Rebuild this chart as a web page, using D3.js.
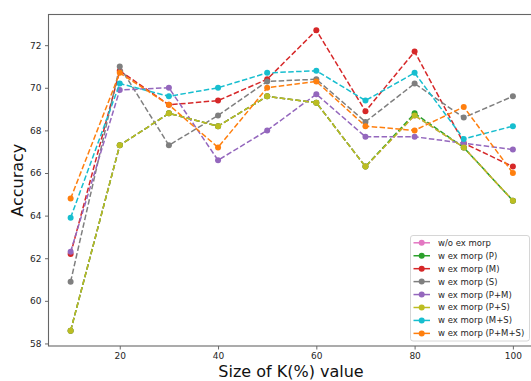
<!DOCTYPE html>
<html>
<head>
<meta charset="utf-8">
<script src="https://cdn.jsdelivr.net/npm/d3@7"></script>
<style>
  body { margin: 0; background: #fff; }
  svg { font-family: "DejaVu Sans", sans-serif; }
</style>
</head>
<body>
<svg id="chart" width="531" height="381"></svg>
<script>
const kSizes = [10, 20, 30, 40, 50, 60, 70, 80, 90, 100];
const seriesNames = ["w/o ex morp", "w ex morp (P)", "w ex morp (M)", "w ex morp (S)",
  "w ex morp (P+M)", "w ex morp (P+S)", "w ex morp (M+S)", "w ex morp (P+M+S)"];
const seriesColors = ["#e377c2", "#2ca02c", "#d62728", "#7f7f7f", "#9467bd", "#bcbd22", "#17becf", "#ff7f0e"];

const woMorp = [58.6, 67.3, 68.8, 68.2, 69.6, 69.3, 66.3, 68.7, 67.2, 64.7];
const morpP = [58.6, 67.3, 68.8, 68.2, 69.6, 69.3, 66.3, 68.8, 67.2, 64.7];
const morpM = [62.2, 70.8, 69.2, 69.4, 70.4, 72.7, 68.9, 71.7, 67.4, 66.3];
const morpS = [60.9, 71.0, 67.3, 68.7, 70.3, 70.4, 68.4, 70.2, 68.6, 69.6];
const morpPM = [62.3, 69.9, 70.0, 66.6, 68.0, 69.7, 67.7, 67.7, 67.4, 67.1];
const morpPS = [58.6, 67.3, 68.8, 68.2, 69.6, 69.3, 66.3, 68.7, 67.2, 64.7];
const morpMS = [63.9, 70.2, 69.6, 70.0, 70.7, 70.8, 69.4, 70.7, 67.6, 68.2];
const morpPMS = [64.8, 70.7, 69.2, 67.2, 70.0, 70.3, 68.2, 68.0, 69.1, 66.0];

const allSeries = [woMorp, morpP, morpM, morpS, morpPM, morpPS, morpMS, morpPMS];
const xTicks = [20, 40, 60, 80, 100];
const yTicks = [58, 60, 62, 64, 66, 68, 70, 72];

const svg = d3.select("#chart");
const plotLeft = 48.5, plotRight = 535, plotTop = 14.5, plotBottom = 346;

const x = d3.scaleLinear().domain([5.5, 104.5]).range([plotLeft, plotRight]);
const y = d3.scaleLinear().domain([57.88, 73.44]).range([plotBottom, plotTop]);

// axes
const xAxis = svg.append("g")
  .attr("transform", `translate(0,${plotBottom})`)
  .call(d3.axisBottom(x).tickValues(xTicks).tickSize(3.5).tickPadding(3.5));
const yAxis = svg.append("g")
  .attr("transform", `translate(${plotLeft},0)`)
  .call(d3.axisLeft(y).tickValues(yTicks).tickSize(3.5).tickPadding(3.5));

[xAxis, yAxis].forEach(a => {
  a.select(".domain").remove();
  a.selectAll(".tick line").attr("stroke", "#444").attr("stroke-width", 0.8);
  a.selectAll(".tick text").attr("fill", "#262626")
    .style("font-size", "9px").style("font-family", "DejaVu Sans, sans-serif");
});

// frame
svg.append("rect")
  .attr("x", plotLeft).attr("y", plotTop)
  .attr("width", plotRight - plotLeft).attr("height", plotBottom - plotTop)
  .attr("fill", "none").attr("stroke", "#666").attr("stroke-width", 1.1);

// lines
const line = d3.line().x((d, i) => x(kSizes[i])).y(d => y(d));
allSeries.forEach((vals, s) => {
  const g = svg.append("g");
  g.append("path")
    .datum(vals)
    .attr("d", line)
    .attr("fill", "none")
    .attr("stroke", seriesColors[s])
    .attr("stroke-width", 1.5)
    .attr("stroke-dasharray", "5.5,2.4");
  g.selectAll("circle")
    .data(vals)
    .enter()
    .append("circle")
    .attr("cx", (d, i) => x(kSizes[i]))
    .attr("cy", d => y(d))
    .attr("r", 3)
    .attr("fill", seriesColors[s]);
});

// axis labels
svg.append("text")
  .attr("x", 291).attr("y", 376.5)
  .attr("text-anchor", "middle")
  .style("font-size", "16px").attr("fill", "#111")
  .text("Size of K(%) value");
svg.append("text")
  .attr("transform", `translate(23,${(plotTop + plotBottom) / 2}) rotate(-90)`)
  .attr("text-anchor", "middle")
  .style("font-size", "16px").attr("fill", "#111")
  .text("Accuracy");

// legend
const lg = svg.append("g").attr("transform", "translate(410.5,235.5)");
lg.append("rect")
  .attr("width", 119).attr("height", 105.5)
  .attr("rx", 2.5)
  .attr("fill", "#fff").attr("fill-opacity", 0.85)
  .attr("stroke", "#ccc").attr("stroke-width", 0.8);
seriesNames.forEach((name, i) => {
  const row = lg.append("g").attr("transform", `translate(0,${7.3 + i * 12.94})`);
  row.append("line")
    .attr("x1", 3).attr("x2", 19.5)
    .attr("stroke", seriesColors[i]).attr("stroke-width", 1.5);
  row.append("circle").attr("cx", 11.2).attr("r", 3).attr("fill", seriesColors[i]);
  row.append("text")
    .attr("x", 27.5).attr("dy", "0.35em")
    .style("font-size", "8.5px").attr("fill", "#262626")
    .text(name);
});
</script>
</body>
</html>
